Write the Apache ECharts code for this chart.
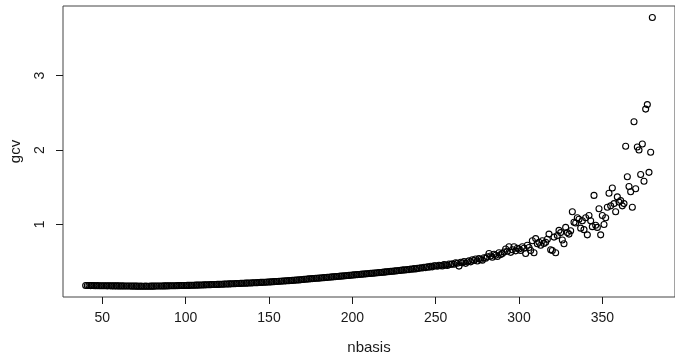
<!DOCTYPE html>
<html>
<head>
<meta charset="utf-8">
<script src="https://cdn.jsdelivr.net/npm/echarts@6/dist/echarts.min.js"></script>
<style>
html,body{margin:0;padding:0;background:#fff;}
#chart{width:675px;height:360px;}
</style>
</head>
<body>
<div id="chart"></div>
<script>
// nbasis runs 40..380 in steps of 1
var nbasisFirst = 40;
// gcv values, nbasis 40..199
var gcvLow = [
0.180,0.179,0.180,0.178,0.179,0.178,0.177,0.178,0.177,0.177,
0.176,0.177,0.176,0.175,0.176,0.175,0.175,0.174,0.175,0.174,
0.174,0.173,0.174,0.173,0.172,0.173,0.172,0.172,0.171,0.172,
0.171,0.171,0.170,0.171,0.170,0.170,0.171,0.170,0.170,0.171,
0.171,0.171,0.172,0.172,0.172,0.173,0.173,0.174,0.174,0.175,
0.175,0.176,0.176,0.177,0.177,0.178,0.178,0.179,0.179,0.180,
0.180,0.181,0.181,0.182,0.183,0.183,0.184,0.185,0.185,0.186,
0.187,0.188,0.188,0.189,0.190,0.191,0.192,0.192,0.193,0.194,
0.195,0.196,0.197,0.198,0.199,0.200,0.201,0.202,0.203,0.204,
0.205,0.206,0.207,0.208,0.209,0.210,0.211,0.212,0.213,0.214,
0.215,0.216,0.217,0.218,0.219,0.221,0.222,0.223,0.224,0.226,
0.227,0.228,0.230,0.231,0.233,0.234,0.236,0.237,0.239,0.240,
0.242,0.243,0.245,0.247,0.248,0.250,0.252,0.254,0.255,0.257,
0.260,0.262,0.264,0.266,0.268,0.270,0.272,0.274,0.276,0.277,
0.279,0.281,0.283,0.285,0.287,0.289,0.291,0.293,0.295,0.297,
0.299,0.301,0.303,0.305,0.307,0.309,0.311,0.313,0.315,0.318
];
// gcv values, nbasis 200..299
var gcvMid = [
0.320,0.322,0.324,0.326,0.328,0.330,0.332,0.334,0.336,0.338,
0.340,0.342,0.344,0.346,0.348,0.351,0.353,0.355,0.357,0.359,
0.362,0.364,0.366,0.369,0.371,0.373,0.376,0.378,0.381,0.383,
0.386,0.390,0.388,0.395,0.393,0.401,0.398,0.406,0.402,0.412,
0.410,0.418,0.414,0.425,0.420,0.432,0.426,0.438,0.430,0.445,
0.445,0.438,0.452,0.447,0.441,0.460,0.455,0.449,0.468,0.462,
0.472,0.466,0.485,0.478,0.440,0.492,0.484,0.503,0.477,0.498,
0.512,0.497,0.525,0.515,0.535,0.508,0.540,0.528,0.518,0.552,
0.545,0.565,0.610,0.575,0.560,0.600,0.585,0.570,0.620,0.595,
0.610,0.630,0.670,0.640,0.700,0.625,0.660,0.700,0.645,0.680
];
// gcv values, nbasis 300..380
var gcvHigh = [
0.670,0.650,0.700,0.680,0.610,0.720,0.690,0.650,0.780,0.620,
0.810,0.740,0.760,0.720,0.780,0.745,0.760,0.800,0.870,0.660,
0.650,0.830,0.620,0.850,0.920,0.890,0.790,0.740,0.960,0.890,
0.870,0.915,1.170,1.030,1.020,1.090,1.070,0.950,1.050,0.930,
1.090,0.860,1.120,1.050,0.970,1.390,0.990,0.960,1.210,0.860,
1.120,1.000,1.090,1.230,1.420,1.250,1.490,1.280,1.170,1.370,
1.300,1.320,1.250,1.280,2.050,1.640,1.510,1.440,1.230,2.380,
1.480,2.040,2.000,1.670,2.080,1.580,2.550,2.610,1.700,1.970,3.780
];
var xTicks = [50, 100, 150, 200, 250, 300, 350];
var yTicks = [1, 2, 3];
var xName = 'nbasis';
var yName = 'gcv';

var gcv = gcvLow.concat(gcvMid, gcvHigh);
var points = gcv.map(function (v, i) { return [nbasisFirst + i, v]; });

var font = 'Liberation Sans, Arial, Helvetica, sans-serif';
var chart = echarts.init(document.getElementById('chart'), null, {renderer: 'canvas'});
chart.setOption({
  animation: false,
  backgroundColor: '#ffffff',
  grid: {
    left: 62, top: 6, width: 619.5, height: 295,
    show: true, borderColor: '#444', borderWidth: 1, backgroundColor: 'transparent'
  },
  xAxis: {
    type: 'value', min: 26.4, max: 393.6,
    name: xName, nameLocation: 'middle', nameGap: 43,
    nameTextStyle: {fontFamily: font, fontSize: 15, color: '#1a1a1a'},
    axisLine: {show: false},
    axisTick: {show: true, length: 7, customValues: xTicks, lineStyle: {color: '#1a1a1a', width: 1}},
    axisLabel: {customValues: xTicks, margin: 14, fontFamily: font, fontSize: 14, color: '#1a1a1a'},
    splitLine: {show: false}
  },
  yAxis: {
    type: 'value', min: 0.025, max: 3.935,
    name: yName, nameLocation: 'middle', nameGap: 40, nameRotate: 90,
    nameTextStyle: {fontFamily: font, fontSize: 15, color: '#1a1a1a'},
    axisLine: {show: false},
    axisTick: {show: true, length: 7, customValues: yTicks, lineStyle: {color: '#1a1a1a', width: 1}},
    axisLabel: {customValues: yTicks, rotate: 90, margin: 16, fontFamily: font, fontSize: 14, color: '#1a1a1a'},
    splitLine: {show: false}
  },
  series: [{
    type: 'scatter',
    data: points,
    symbol: 'circle',
    symbolSize: 6,
    itemStyle: {color: 'rgba(0,0,0,0)', borderColor: '#000', borderWidth: 1.1, opacity: 1},
    emphasis: {disabled: true}
  }]
});
</script>
</body>
</html>
